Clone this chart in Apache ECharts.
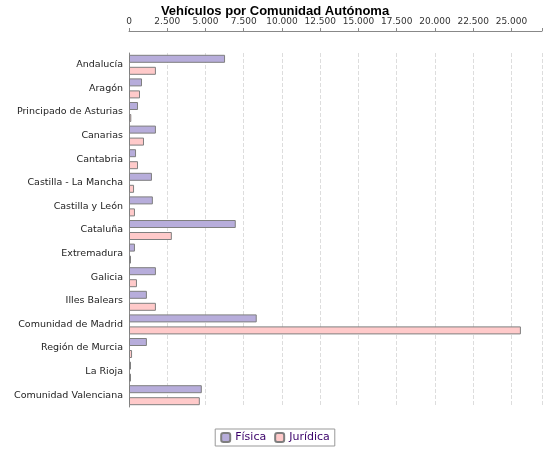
<!DOCTYPE html>
<html><head><meta charset="utf-8">
<script src="https://cdn.jsdelivr.net/npm/echarts@6/dist/echarts.min.js"></script>
<style>html,body{margin:0;padding:0;background:#fff}#c{width:550px;height:450px}</style>
</head><body><div id="c"></div>
<script>
const categories = ["Andalucía","Aragón","Principado de Asturias","Canarias","Cantabria","Castilla - La Mancha","Castilla y León","Cataluña","Extremadura","Galicia","Illes Balears","Comunidad de Madrid","Región de Murcia","La Rioja","Comunidad Valenciana"];
const fisica = [6280,850,590,1760,460,1500,1560,6980,390,1760,1170,8350,1170,130,4760];
const juridica = [1760,720,150,980,590,330,390,2800,130,520,1760,25620,200,65,4630];
const chart = echarts.init(document.getElementById('c'));
chart.setOption({
  animation:false,
  title:{text:'Vehículos por Comunidad Autónoma',left:'center',top:0,textStyle:{fontFamily:'Liberation Sans',fontWeight:'bold',fontSize:13,color:'#000'}},
  legend:{bottom:4,left:'center',itemWidth:9,itemHeight:9,itemGap:8,borderColor:'#999',borderWidth:1,padding:[3,5],textStyle:{fontFamily:'DejaVu Sans',fontSize:11,color:'#3a006a'},
    data:['Física','Jurídica']},
  grid:{left:129,right:8,top:53,bottom:43},
  xAxis:{type:'value',position:'top',min:0,max:27000,interval:2500,offset:22,
    axisLine:{show:true,lineStyle:{color:'#888'}},axisTick:{show:true,length:3,lineStyle:{color:'#888'}},
    axisLabel:{fontFamily:'DejaVu Sans',fontSize:9,color:'#333',margin:5,formatter:v=>v%2500===0?(v>=1000?String(v).replace(/(\d)(\d{3})$/,'$1.$2'):String(v)):''},
    splitLine:{show:true,lineStyle:{color:'#ddd',type:'dashed'}}},
  yAxis:{type:'category',inverse:true,data:categories,
    axisLine:{show:true,lineStyle:{color:'#888'}},axisTick:{show:false},
    axisLabel:{fontFamily:'DejaVu Sans',fontSize:9.5,color:'#222',margin:6}},
  series:[
    {name:'Física',type:'bar',data:fisica,barWidth:8,barGap:'50%',barMinHeight:2,itemStyle:{color:'#b7addb',borderColor:'#7f7f7f',borderWidth:1}},
    {name:'Jurídica',type:'bar',data:juridica,barWidth:8,barMinHeight:2,itemStyle:{color:'#ffcaca',borderColor:'#7f7f7f',borderWidth:1}}
  ]
});
</script></body></html>
